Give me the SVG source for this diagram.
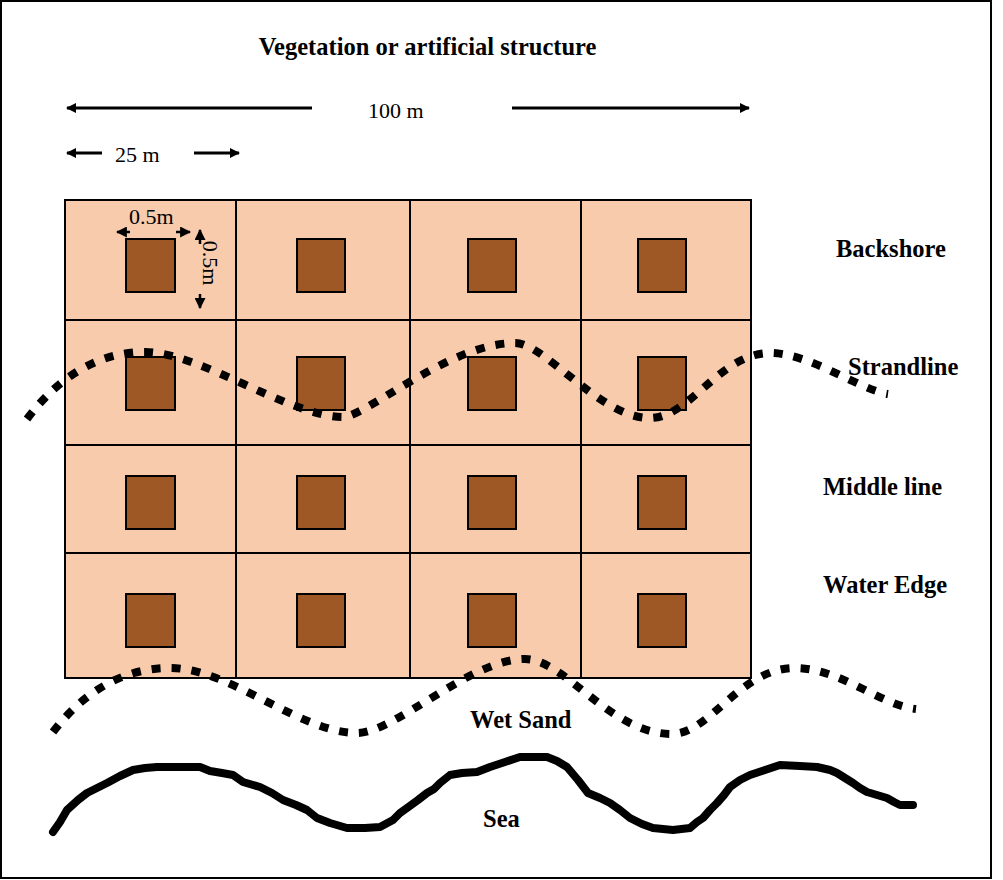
<svg xmlns="http://www.w3.org/2000/svg" width="1003" height="880" viewBox="0 0 1003 880">
<style>
.cell{fill:#F8CBAD;stroke:#000;stroke-width:2}
.sq{fill:#9E5826;stroke:#000;stroke-width:2}
.lbl{font-family:"Liberation Serif","Times New Roman",serif;font-weight:bold;font-size:24.5px;fill:#000}
.dim{font-family:"Liberation Serif","Times New Roman",serif;font-size:22px;fill:#000}
.arr{stroke:#000;stroke-width:3;fill:none;marker-end:url(#ah)}
.sarr{stroke:#000;stroke-width:2.5;fill:none;marker-end:url(#sh)}
.dot{fill:none;stroke:#000;stroke-width:8;stroke-dasharray:9 11}
.sea{fill:none;stroke:#000;stroke-width:8;stroke-linejoin:round;stroke-linecap:round}
</style>
<defs>
<marker id="ah" viewBox="0 0 10 10" refX="9" refY="5" markerWidth="12" markerHeight="10" orient="auto" markerUnits="userSpaceOnUse"><path d="M0,0 L10,5 L0,10 z" fill="#000"/></marker>
<marker id="sh" viewBox="0 0 10 10" refX="9" refY="5" markerWidth="11" markerHeight="11" orient="auto" markerUnits="userSpaceOnUse"><path d="M0,0 L10,5 L0,10 z" fill="#000"/></marker>
</defs>
<rect x="1" y="1" width="990" height="877" fill="#fff" stroke="#000" stroke-width="2"/>

<g id="grid">
<rect class="cell" x="65" y="200" width="171" height="120"/>
<rect class="cell" x="236" y="200" width="174" height="120"/>
<rect class="cell" x="410" y="200" width="171" height="120"/>
<rect class="cell" x="581" y="200" width="170" height="120"/>
<rect class="cell" x="65" y="320" width="171" height="125"/>
<rect class="cell" x="236" y="320" width="174" height="125"/>
<rect class="cell" x="410" y="320" width="171" height="125"/>
<rect class="cell" x="581" y="320" width="170" height="125"/>
<rect class="cell" x="65" y="445" width="171" height="108"/>
<rect class="cell" x="236" y="445" width="174" height="108"/>
<rect class="cell" x="410" y="445" width="171" height="108"/>
<rect class="cell" x="581" y="445" width="170" height="108"/>
<rect class="cell" x="65" y="553" width="171" height="125"/>
<rect class="cell" x="236" y="553" width="174" height="125"/>
<rect class="cell" x="410" y="553" width="171" height="125"/>
<rect class="cell" x="581" y="553" width="170" height="125"/>
</g>

<g id="quadrats">
<rect class="sq" x="126" y="239" width="49" height="53"/>
<rect class="sq" x="297" y="239" width="48" height="53"/>
<rect class="sq" x="468" y="239" width="48" height="53"/>
<rect class="sq" x="638" y="239" width="48" height="53"/>
<rect class="sq" x="126" y="357" width="49" height="53"/>
<rect class="sq" x="297" y="357" width="48" height="53"/>
<rect class="sq" x="468" y="357" width="48" height="53"/>
<rect class="sq" x="638" y="357" width="48" height="53"/>
<rect class="sq" x="126" y="476" width="49" height="53"/>
<rect class="sq" x="297" y="476" width="48" height="53"/>
<rect class="sq" x="468" y="476" width="48" height="53"/>
<rect class="sq" x="638" y="476" width="48" height="53"/>
<rect class="sq" x="126" y="594" width="49" height="53"/>
<rect class="sq" x="297" y="594" width="48" height="53"/>
<rect class="sq" x="468" y="594" width="48" height="53"/>
<rect class="sq" x="638" y="594" width="48" height="53"/>
</g>

<g id="connectors">
<line class="arr" x1="312" y1="108" x2="67" y2="108"/>
<line class="arr" x1="512" y1="108" x2="749" y2="108"/>
<line class="arr" x1="102" y1="153" x2="67" y2="153"/>
<line class="arr" x1="194" y1="153" x2="239" y2="153"/>
<line class="sarr" x1="130" y1="232" x2="117" y2="232"/>
<line class="sarr" x1="176" y1="232" x2="190" y2="232"/>
<line class="sarr" x1="200" y1="244" x2="200" y2="230"/>
<line class="sarr" x1="200" y1="294" x2="200" y2="308"/>
<path id="strandline" class="dot" d="M27,419 C60,375 100,352 145,352 C200,352 290,417 343,417 C365,417 450,343 515,343 C545,343 600,418 650,418 C690,418 720,353 770,353 C810,353 860,390 888,394"/>
<path id="wetsand-line" class="dot" d="M53,732 C85,690 125,668 170,668 C230,668 300,733 357,733 C395,733 470,659 525,659 C565,659 610,734 672,734 C710,734 740,668 795,668 C840,668 880,705 916,709"/>
<polyline id="sea-line" class="sea" points="53,832 60,822 67,810 78,800 87,793 97,788 107,783 120,776 133,770 145,768 157,767 180,767 200,767 210,771 222,773 233,775 243,782 260,787 272,793 283,800 296,805 307,810 317,818 330,823 347,828 365,828 380,827 393,820 400,813 407,808 418,800 427,793 434,789 440,783 450,775 462,773 477,772 490,767 505,762 520,757 535,757 547,757 557,761 567,767 578,780 588,793 600,798 610,803 620,810 630,818 642,824 653,828 673,830 690,828 697,822 703,818 710,810 717,803 724,795 730,787 740,780 750,775 765,770 780,765 800,766 817,767 830,770 837,773 845,778 853,783 860,788 867,792 877,795 887,798 894,802 900,805 913,805"/>
</g>

<g id="labels">
<text class="lbl" x="427.5" y="55" text-anchor="middle">Vegetation or artificial structure</text>
<text class="dim" x="368" y="118">100 m</text>
<text class="dim" x="115" y="162">25 m</text>
<text class="dim" x="129" y="224" font-size="21">0.5m</text>
<text class="dim" transform="translate(203,263) rotate(90)" text-anchor="middle" font-size="21">0.5m</text>
<text class="lbl" x="836" y="257">Backshore</text>
<text class="lbl" x="848" y="375">Strandline</text>
<text class="lbl" x="823" y="495">Middle line</text>
<text class="lbl" x="823" y="593">Water Edge</text>
<text class="lbl" x="470" y="728">Wet Sand</text>
<text class="lbl" x="483" y="827">Sea</text>
</g>
</svg>
